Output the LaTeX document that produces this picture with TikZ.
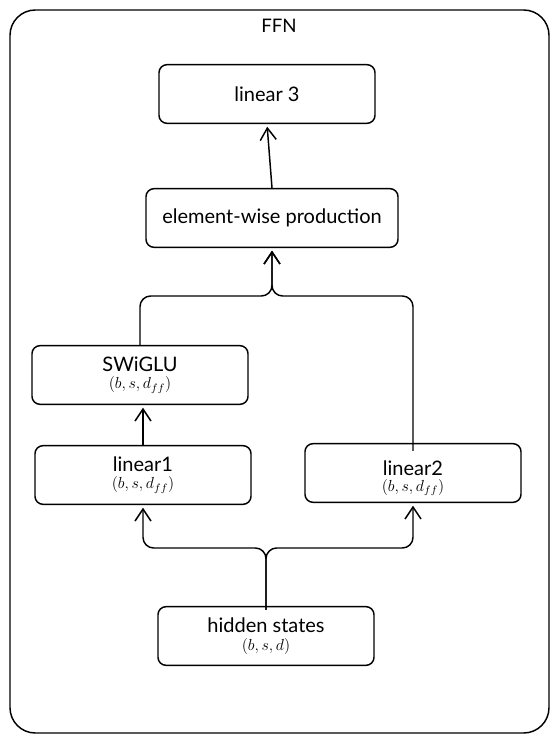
\documentclass[tikz,border=0pt]{standalone}
\usepackage{fontspec}
\setmainfont{Lato}
\usetikzlibrary{arrows.meta}

\tikzset{
  block/.style={draw, rounded corners=6pt, line width=1.1pt, minimum width=162pt,
    minimum height=44pt, align=center, font=\fontsize{15}{16}\selectfont},
  flow/.style={line width=1.1pt, rounded corners=8pt},
  arr/.style={-{Straight Barb[length=9pt,width=12pt,line width=1.1pt]}, shorten >=2pt}
}
\newcommand{\tensorshape}[1]{{\fontsize{12}{13}\selectfont$#1$}}

\begin{document}
\begin{tikzpicture}[x=0.75pt,y=-0.75pt]

  \useasboundingbox (0,0) rectangle (559,742);

  % Rahmen FFN
  \draw[line width=1.1pt, rounded corners=19pt] (10,10) rectangle (549,733);
  \node[font=\fontsize{14}{15}\selectfont] (title) at (279,26) {FFN};

  % Bloecke
  \node[block] (lin3) at (267,94) {linear 3};
  \node[block, minimum width=189pt] (prod) at (272,218) {element-wise production};
  \node[block] (swiglu) at (140,375) {SWiGLU\\[-3pt]\tensorshape{(b,s,d_{ff})}};
  \node[block] (lin1) at (143,475) {linear1\\[-3pt]\tensorshape{(b,s,d_{ff})}};
  \node[block] (lin2) at (413,473) {\mbox{}\\[3pt]linear2\\[-4pt]\tensorshape{(b,s,d_{ff})}};
  \node[block] (hidden) at (266,636) {hidden states\\[-3pt]\tensorshape{(b,s,d)}};

  % Verzweigungspunkte
  \coordinate (join) at (272,296);
  \coordinate (split) at (266,548);

  % Pfeile
  \draw[flow, arr] (prod.north) -- (lin3.south);
  \draw[flow, arr] (swiglu.north) |- (join) -- (prod.south);
  \draw[flow, arr] ([yshift=-6pt]lin2.north) |- (join) -- (prod.south);
  \draw[flow, arr] (lin1.north) -- (lin1.north |- swiglu.south);
  \draw[flow, arr] ([yshift=-3pt]hidden.north) -- (split) -| (lin1.south);
  \draw[flow, arr] ([yshift=-3pt]hidden.north) -- (split) -| (lin2.south);

\end{tikzpicture}
\end{document}
